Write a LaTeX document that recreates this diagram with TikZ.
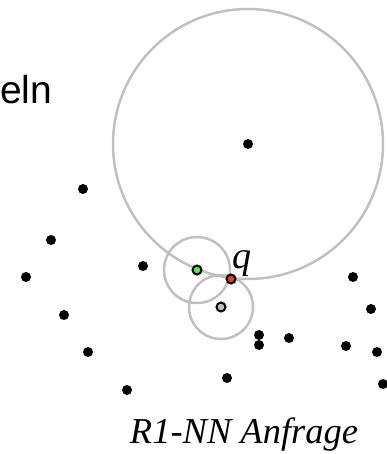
\documentclass[tikz,border=0pt]{standalone}
\usepackage{fontspec}
\setmainfont{Liberation Serif}
\newfontfamily\headfont{Liberation Sans}
\definecolor{ringgrey}{RGB}{192,192,192}
\definecolor{nngreen}{RGB}{90,230,70}
\definecolor{qred}{RGB}{235,60,20}
\usetikzlibrary{positioning}

\begin{document}
\begin{tikzpicture}[x=1pt,y=-1pt,
    pt/.style={circle,fill=black,inner sep=0pt,minimum size=10pt},
    mark pt/.style={circle,draw=black,line width=2pt,inner sep=0pt,minimum size=9pt},
    ring/.style={draw=ringgrey,line width=2.5pt}]
    \useasboundingbox (0,0) rectangle (387,454);
    % rings
    \draw[ring] (248,144) circle[radius=135];
    \draw[ring] (197,270) circle[radius=33];
    \draw[ring] (221,307) circle[radius=32];
    % points
    \foreach \x/\y [count=\i] in {248/144,83/189,51/240,26/277,143/266,64/315,88/352,127/390,
        227/378,259/335,259/345,289/338,353/277,371/309,346/346,377/352,383/384}
      \node[pt] (p\i) at (\x,\y) {};
    \node[mark pt,fill=nngreen] (nn) at (197,270) {};
    \node[mark pt,fill=ringgrey] (rn) at (221,307) {};
    \node[mark pt,fill=qred] (q) at (231,279) {};
    \node[inner sep=0pt,anchor=base west,font=\itshape\fontsize{38}{38}\selectfont] (qlabel) at (232,268) {q};
    % texts
    \node[inner sep=0pt,anchor=base west,font=\headfont\fontsize{39}{39}\selectfont] (head) at (0,104) {eln};
    \node[inner sep=0pt,anchor=base,font=\itshape\fontsize{36.5}{36.5}\selectfont] (caption) at (244,443) {R1-NN Anfrage};
  \end{tikzpicture}
\end{document}
